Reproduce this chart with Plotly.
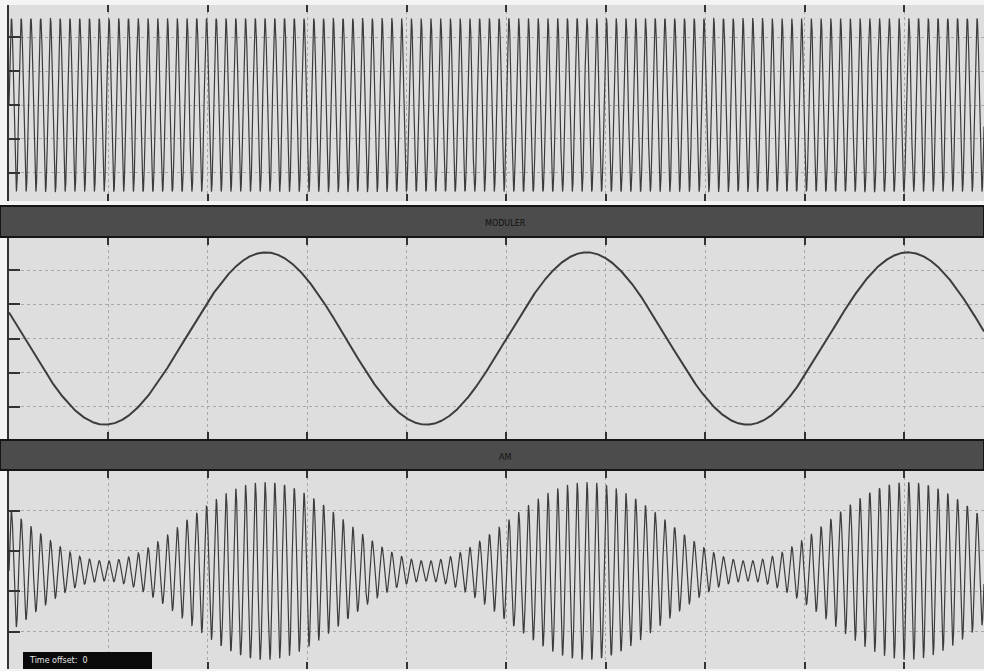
import numpy as np
import plotly.graph_objects as go

# ---- values (x in grid divisions, y in grid units) ----
x_grid_ticks = [1, 2, 3, 4, 5, 6, 7, 8, 9]
x_visible_max = 9.8

carrier_amp = 2.55            # top panel, constant amplitude
carrier_cycles_per_div = 10.2 # carrier cycles per grid division

mod_amp = 2.52                # middle panel sine amplitude
mod_period = 3.228            # divisions per modulator period
mod_first_min = 0.965         # position of the first minimum

am_amp = 1.225                # bottom panel carrier amplitude (unmodulated)
am_index = 0.796              # modulation index

top_y_ticks = [-2, -1, 0, 1, 2]
mid_y_ticks = [-2, -1, 0, 1, 2]
bot_y_ticks = [-1.5, -0.5, 0.5, 1.5]

panel_titles = ["MODULER", "AM"]
status_text = "Time offset:  0"

# ---- figure geometry helpers (pixels -> paper) ----
W, H = 984, 671
def fy(p):
    return 1 - p / H
def fx(p):
    return p / W

t = np.linspace(0, x_visible_max, 9000)
carrier = carrier_amp * np.sin(2 * np.pi * carrier_cycles_per_div * t)
modn = -np.cos(2 * np.pi * (t - mod_first_min) / mod_period)
modulator = mod_amp * modn
am = am_amp * (1 + am_index * modn) * np.sin(2 * np.pi * carrier_cycles_per_div * t)

line_col = "#3c3c3c"
fig = go.Figure()
fig.add_trace(go.Scatter(x=t, y=carrier, mode="lines", line=dict(color=line_col, width=1.2),
                         xaxis="x", yaxis="y", showlegend=False, hoverinfo="skip"))
fig.add_trace(go.Scatter(x=t, y=modulator, mode="lines", line=dict(color=line_col, width=2),
                         xaxis="x2", yaxis="y2", showlegend=False, hoverinfo="skip"))
fig.add_trace(go.Scatter(x=t, y=am, mode="lines", line=dict(color=line_col, width=1.2),
                         xaxis="x3", yaxis="y3", showlegend=False, hoverinfo="skip"))

xdom = [fx(9), 1.0]
common_x = dict(domain=xdom, range=[0, x_visible_max], tickvals=x_grid_ticks,
                showticklabels=False, ticks="inside", ticklen=7, tickwidth=2,
                tickcolor="#333333", mirror="ticks", showline=False,
                showgrid=True, gridcolor="#a8a8a8", griddash="dot", gridwidth=1,
                zeroline=False)
common_y = dict(showticklabels=False, ticks="inside", ticklen=11, tickwidth=2,
                tickcolor="#333333", showline=True, linecolor="#333333", linewidth=2,
                showgrid=True, gridcolor="#a8a8a8", griddash="dot", gridwidth=1,
                zeroline=False)

panels = [  # (top px, bottom px)
    (5, 201),
    (238, 439),
    (471, 669),
]

def ydom(p):
    return [fy(p[1]), fy(p[0])]

fig.update_layout(
    width=W, height=H,
    margin=dict(l=0, r=0, t=0, b=0),
    paper_bgcolor="#f4f4f4",
    plot_bgcolor="#dedede",
    xaxis=dict(common_x, anchor="y"),
    xaxis2=dict(common_x, anchor="y2"),
    xaxis3=dict(common_x, anchor="y3"),
    yaxis=dict(common_y, domain=ydom(panels[0]), range=[-2.83, 2.95], tickvals=top_y_ticks, anchor="x"),
    yaxis2=dict(common_y, domain=ydom(panels[1]), range=[-2.94, 2.94], tickvals=mid_y_ticks, anchor="x2"),
    yaxis3=dict(common_y, domain=ydom(panels[2]), range=[-2.43, 2.48], tickvals=bot_y_ticks, anchor="x3"),
)

# dark title bars between panels
bars = [(206, 237), (440, 470)]
shapes = []
annotations = []
for (b0, b1), title in zip(bars, panel_titles):
    shapes.append(dict(type="rect", xref="paper", yref="paper", x0=0, x1=1,
                       y0=fy(b1), y1=fy(b0), fillcolor="#4c4c4c",
                       line=dict(color="#151515", width=2), layer="above"))
    annotations.append(dict(text=title, xref="paper", yref="paper", x=fx(505),
                            y=fy((b0 + b1) / 2 + 2), showarrow=False,
                            font=dict(size=8, color="#111111", family="DejaVu Sans"),
                            xanchor="center", yanchor="middle"))

# status box bottom-left
shapes.append(dict(type="rect", xref="paper", yref="paper", x0=fx(23), x1=fx(152),
                   y0=fy(669), y1=fy(652), fillcolor="#0a0a0a",
                   line=dict(color="#0a0a0a", width=0), layer="above"))
annotations.append(dict(text=status_text, xref="paper", yref="paper", x=fx(27),
                        y=fy(660.5), showarrow=False, xanchor="left", yanchor="middle",
                        font=dict(size=8, color="#e8e8e8", family="DejaVu Sans")))

fig.update_layout(shapes=shapes, annotations=annotations)

fig.write_html("out.html", config={"displayModeBar": False},
               post_script="document.body.style.margin='0px';")
